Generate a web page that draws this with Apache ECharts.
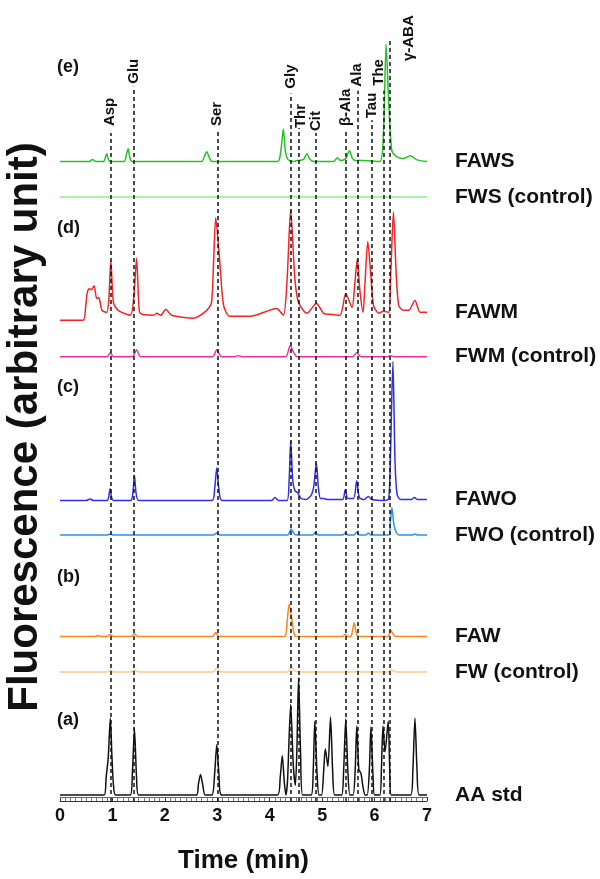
<!DOCTYPE html>
<html>
<head>
<meta charset="utf-8">
<script src="https://cdn.jsdelivr.net/npm/echarts@6/dist/echarts.min.js"></script>
<style>
html, body { margin: 0; padding: 0; background: #fff; }
#chart { width: 600px; height: 879px; }
</style>
</head>
<body>
<div id="chart"></div>
<script>
// retention time (min) / signal (a.u., above each trace's own baseline)
const aaStd = [[0,0],[0.84,0],[0.88,18],[0.92,38],[0.96,78],[0.99,40],[1.02,10],[1.06,0],[1.34,0],[1.38,22],[1.42,67],[1.46,18],[1.5,0],
    [2.6,0],[2.64,11],[2.68,21],[2.72,11],[2.77,0],[2.9,0],[2.95,22],[2.99,51],[3.03,22],[3.08,0],
    [4.15,0],[4.2,18],[4.24,40],[4.28,12],[4.31,0],[4.34,15],[4.4,92],[4.45,30],[4.49,10],[4.52,50],[4.55,119],[4.59,40],[4.63,0],
    [4.79,0],[4.83,25],[4.86,75],[4.9,25],[4.94,0],[4.99,0],[5.03,25],[5.06,47],[5.11,29],[5.16,79],[5.2,25],[5.24,0],
    [5.37,0],[5.41,25],[5.45,77],[5.49,25],[5.53,0],[5.59,0],[5.63,25],[5.66,70],[5.7,26],[5.74,22],[5.78,8],[5.82,0],
    [5.86,0],[5.9,25],[5.93,69],[5.97,20],[6.0,0],[6.1,0],[6.13,25],[6.16,70],[6.2,44],[6.26,75],[6.29,25],[6.32,0],
    [6.69,0],[6.73,25],[6.77,78],[6.81,25],[6.85,0],[7,0]];
const fwControl = [[0,0],[0.9,0],[0.96,2],[1.02,0],[1.36,0],[1.42,2],[1.5,0],[2.92,0],[2.99,4],[3.06,0],[4.34,0],[4.41,5],[4.48,1],[4.56,0],
    [5.62,0],[5.68,1],[5.74,0],[6.25,0],[6.32,2],[6.4,0],[7,0]];
const faw = [[0,0],[0.68,0],[0.73,1],[0.78,0],[0.9,0],[0.96,2],[1.02,0],[1.36,0],[1.42,3],[1.48,0],[2.91,0],[2.97,4],[3.03,0],
    [4.28,0],[4.33,14],[4.37,33],[4.42,18],[4.46,4],[4.5,0],[5.39,0],[5.44,2],[5.49,0],[5.55,0],[5.58,6],[5.61,14],[5.65,4],[5.69,0],
    [6.25,0],[6.31,6],[6.37,1],[6.42,0],[7,0]];
const fwoControl = [[0,0],[0.9,0],[0.96,1],[1.02,0],[2.93,0],[2.99,2],[3.05,0],[4.34,0],[4.41,6],[4.47,1],[4.52,0],[4.82,0],[4.87,3],[4.92,0],
    [5.39,0],[5.44,2],[5.49,0],[5.61,0],[5.66,3],[5.71,0],[5.83,0],[5.88,2],[5.93,0],[6.27,0],[6.3,12],[6.33,28],[6.37,10],[6.42,2],[6.47,0],
    [6.72,0],[6.77,1],[6.82,0],[7,0]];
const fawo = [[0,0],[0.5,0],[0.57,1.5],[0.64,0],[0.9,0],[0.93,4],[0.955,12],[0.98,4],[1.02,0],[1.35,0],[1.39,8],[1.42,25],[1.45,8],[1.5,0],
    [2.9,0],[2.95,12],[2.99,33],[3.03,12],[3.09,0],[4.03,0],[4.1,3],[4.17,0],[4.33,0],[4.37,20],[4.4,60],[4.44,20],[4.48,10],[4.53,8],[4.6,2],
    [4.7,1],[4.77,4],[4.8,6],[4.84,14],[4.89,38],[4.93,12],[4.97,2],[5.03,2],[5.1,1],[5.39,1],[5.44,11],[5.49,2],[5.6,2],[5.66,20],[5.71,3],
    [5.8,1],[5.88,4],[5.95,1],[6.2,0],[6.27,2],[6.3,40],[6.35,141],[6.39,40],[6.43,6],[6.5,1],[6.7,1],[6.76,3],[6.82,1],[7,1]];
const fwmControl = [[0,0],[0.9,0],[0.96,4],[1.02,0],[1.38,0],[1.46,7],[1.54,0],[2.91,0],[2.99,7],[3.08,0],[3.33,0],[3.4,1],[3.47,0],
    [4.3,0],[4.39,11],[4.46,4],[4.52,0],[5.58,0],[5.66,4],[5.74,0],[6.24,0],[6.3,1],[6.38,0],[7,0]];
const fawm = [[0,0],[0.44,0],[0.49,14],[0.52,28],[0.56,32],[0.6,31],[0.65,35],[0.7,22],[0.74,23],[0.8,10],[0.89,8],[0.93,20],[0.97,60],
    [1.02,18],[1.11,10],[1.34,5],[1.41,25],[1.46,63],[1.5,20],[1.53,7],[1.78,5],[1.85,7],[1.92,5],[2.02,11],[2.13,5],[2.54,2],[2.8,10],
    [2.89,18],[2.93,60],[2.97,104],[3.05,58],[3.12,15],[3.24,4],[3.63,4],[4.13,12],[4.26,5],[4.33,40],[4.4,112],[4.48,42],[4.55,18],
    [4.71,7],[4.89,17],[5.03,7],[5.15,6],[5.34,5],[5.45,27],[5.57,13],[5.62,35],[5.67,62],[5.72,30],[5.78,8],[5.82,40],[5.87,80],[5.93,45],
    [5.98,15],[6.08,7],[6.17,9],[6.27,8],[6.31,50],[6.36,110],[6.41,50],[6.46,15],[6.55,10],[6.65,10],[6.77,20],[6.87,8],[6.97,8],[7,8]];
const fwsControl = [[0,0],[4.35,0],[4.42,1],[4.5,0],[7,0]];
const faws = [[0,0],[0.55,0],[0.62,2],[0.69,0],[0.83,0],[0.87,5],[0.89,8],[0.92,3],[0.95,0],[1.22,0],[1.27,8],[1.3,13],[1.33,5],[1.37,0],
    [2.7,0],[2.76,6],[2.8,10],[2.85,4],[2.9,0],[4.15,0],[4.21,10],[4.26,33],[4.3,10],[4.35,2],[4.45,0],[4.52,1],[4.64,2],[4.71,8],[4.77,2],
    [4.85,0],[5.22,0],[5.29,4],[5.35,1],[5.45,3],[5.52,11],[5.58,3],[5.65,1],[5.79,1],[6.1,0],[6.17,30],[6.22,119],[6.27,60],[6.33,11],
    [6.42,5],[6.55,3],[6.68,6],[6.8,2],[7,0]];

const traceNames = ['AA std', 'FW (control)', 'FAW', 'FWO (control)', 'FAWO', 'FWM (control)', 'FAWM', 'FWS (control)', 'FAWS'];
const traces = [aaStd, fwControl, faw, fwoControl, fawo, fwmControl, fawm, fwsControl, faws];
const traceOffsets = [6, 131, 167, 270, 305, 451, 488, 613, 649];
const traceColors = ['#111111', '#fcc892', '#f7861e', '#2a92ec', '#2f2fe8', '#f0309a', '#f52424', '#90ee90', '#22c322'];

// amino acid markers
const markerNames = ['Asp', 'Glu', 'Ser', 'Gly', 'Thr', 'Cit', 'β-Ala', 'Ala', 'Tau', 'The', 'γ-ABA'];
const markerTimes = [0.96, 1.41, 3.0, 4.41, 4.56, 4.88, 5.45, 5.67, 5.95, 6.18, 6.28];
const markerTops = [678, 725, 680, 718, 683, 678, 681, 721, 691, 721, 773];
const markerLabelBase = [685, 728, 685, 723, 683, 680, 685, 725, 693, 726, 751];
const markerLabelDx = [0, 0, 0, 0, 2, 0, 0, 0, 0, -5, 20];

const panelLabels = ['(e)', '(d)', '(c)', '(b)', '(a)'];
const panelLabelY = [67, 228, 387, 577, 720];

const xTicks = [0, 7, 1];

const FONT = '"Liberation Sans", Arial, sans-serif';

const series = traces.map((tr, i) => ({
    name: traceNames[i],
    type: 'line',
    data: tr.map(p => [p[0], p[1] + traceOffsets[i]]),
    smooth: 0.25,
    symbol: 'none',
    lineStyle: { color: traceColors[i], width: 1.5 },
    itemStyle: { color: traceColors[i] },
    z: 3,
    endLabel: {
        show: true,
        formatter: '{a}',
        distance: 28,
        color: '#111',
        fontFamily: FONT,
        fontWeight: 'bold',
        fontSize: 21
    }
}));

// dashed marker lines + ruler top line
series[0].markLine = {
    silent: true,
    symbol: 'none',
    animation: false,
    label: { show: false },
    lineStyle: { color: '#111', type: [4, 3], width: 1.5 },
    z: 5,
    data: markerTimes.map((t, i) => [{ coord: [t, 0] }, { coord: [t, markerTops[i]] }]).concat([
        [{ coord: [0, 4], lineStyle: { type: 'solid', width: 1, color: '#666' } }, { coord: [7, 4] }]
    ])
};

const chart = echarts.init(document.getElementById('chart'));
chart.setOption({
    animation: false,
    backgroundColor: '#fff',
    grid: { left: 60, right: 173, top: 0, bottom: 66 },
    xAxis: {
        type: 'value',
        min: xTicks[0],
        max: xTicks[1],
        interval: xTicks[2],
        name: 'Time (min)',
        nameLocation: 'middle',
        nameGap: 47,
        nameTextStyle: { fontFamily: FONT, fontWeight: 'bold', fontSize: 26, color: '#111' },
        axisLine: { lineStyle: { color: '#333', width: 1 } },
        axisTick: { inside: true, length: 4, lineStyle: { color: '#333' } },
        minorTick: { show: true, splitNumber: 10, length: 4, lineStyle: { color: '#777' } },
        splitLine: { show: false },
        axisLabel: { fontFamily: FONT, fontWeight: 'bold', fontSize: 18, color: '#111', margin: 6 }
    },
    yAxis: {
        type: 'value',
        min: 0,
        max: 813,
        show: false
    },
    series: series
});

const graphics = [];
markerNames.forEach((name, i) => {
    const p = chart.convertToPixel({ gridIndex: 0 }, [markerTimes[i], markerLabelBase[i]]);
    graphics.push({
        type: 'text',
        x: p[0] + markerLabelDx[i],
        y: p[1],
        rotation: Math.PI / 2,
        z: 10,
        style: {
            text: name,
            font: 'bold 15px ' + FONT,
            fill: '#111',
            textAlign: 'left',
            textVerticalAlign: 'middle',
            align: 'left',
            verticalAlign: 'middle'
        }
    });
});
panelLabels.forEach((lab, i) => {
    graphics.push({
        type: 'text',
        x: 57,
        y: panelLabelY[i],
        z: 10,
        style: {
            text: lab,
            font: 'bold 18px ' + FONT,
            fill: '#111',
            textAlign: 'left',
            textVerticalAlign: 'middle',
            align: 'left',
            verticalAlign: 'middle'
        }
    });
});
graphics.push({
    type: 'text',
    x: 25,
    y: 427,
    rotation: Math.PI / 2,
    z: 10,
    style: {
        text: 'Fluorescence (arbitrary unit)',
        font: 'bold 42px ' + FONT,
        fill: '#111',
        textAlign: 'center',
        textVerticalAlign: 'middle',
        align: 'center',
        verticalAlign: 'middle'
    }
});
chart.setOption({ graphic: graphics });
</script>
</body>
</html>
